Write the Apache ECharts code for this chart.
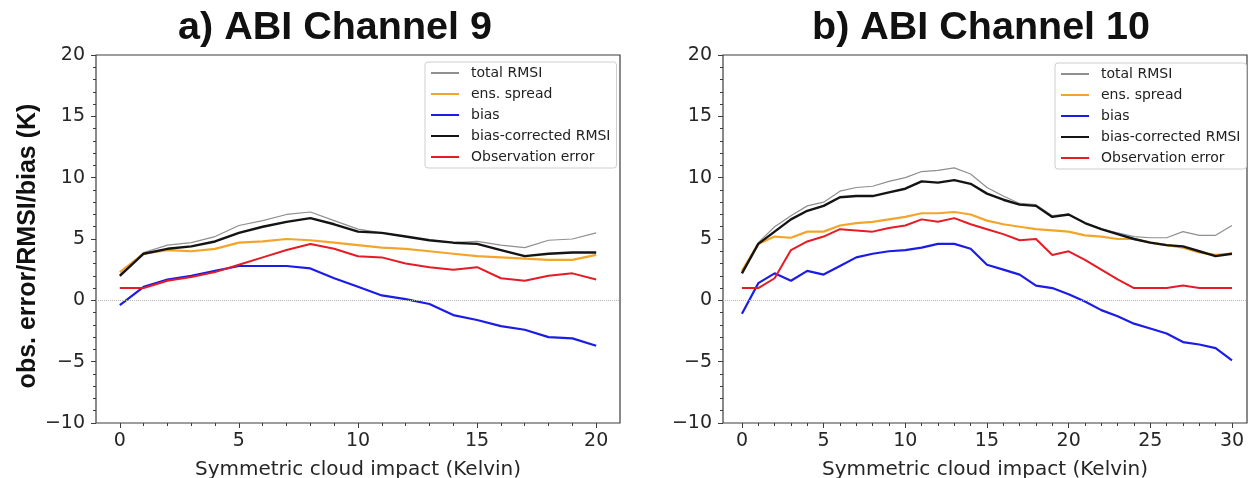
<!DOCTYPE html>
<html><head><meta charset="utf-8">
<script src="https://cdn.jsdelivr.net/npm/echarts@6/dist/echarts.min.js"></script>
<style>html,body{margin:0;padding:0;background:#fff}#c{width:1248px;height:478px}</style>
</head><body><div id="c"></div>
<script>
// ---------- data ----------
const seriesNames = ['total RMSI', 'ens. spread', 'bias', 'bias-corrected RMSI', 'Observation error'];

const xLeft = [0,1,2,3,4,5,6,7,8,9,10,11,12,13,14,15,16,17,18,19,20];
const leftTotal  = [2.1,3.9,4.5,4.7,5.2,6.1,6.5,7.0,7.2,6.5,5.8,5.5,5.2,4.9,4.7,4.8,4.5,4.3,4.9,5.0,5.5];
const leftSpread = [2.3,3.8,4.1,4.0,4.2,4.7,4.8,5.0,4.9,4.7,4.5,4.3,4.2,4.0,3.8,3.6,3.5,3.4,3.3,3.3,3.7];
const leftBias   = [-0.4,1.1,1.7,2.0,2.4,2.8,2.8,2.8,2.6,1.8,1.1,0.4,0.1,-0.3,-1.2,-1.6,-2.1,-2.4,-3.0,-3.1,-3.7];
const leftBcRmsi = [2.0,3.8,4.2,4.4,4.8,5.5,6.0,6.4,6.7,6.2,5.6,5.5,5.2,4.9,4.7,4.6,4.1,3.6,3.8,3.9,3.9];
const leftObsErr = [1.0,1.0,1.6,1.9,2.3,2.9,3.5,4.1,4.6,4.2,3.6,3.5,3.0,2.7,2.5,2.7,1.8,1.6,2.0,2.2,1.7];

const xRight = [0,1,2,3,4,5,6,7,8,9,10,11,12,13,14,15,16,17,18,19,20,21,22,23,24,25,26,27,28,29,30];
const rightTotal  = [2.3,4.7,6.0,6.9,7.7,8.0,8.9,9.2,9.3,9.7,10.0,10.5,10.6,10.8,10.3,9.2,8.5,7.9,7.8,6.9,7.0,6.3,5.8,5.5,5.2,5.1,5.1,5.6,5.3,5.3,6.1];
const rightSpread = [2.4,4.6,5.2,5.1,5.6,5.6,6.1,6.3,6.4,6.6,6.8,7.1,7.1,7.2,7.0,6.5,6.2,6.0,5.8,5.7,5.6,5.3,5.2,5.0,5.0,4.7,4.5,4.3,3.9,3.7,3.8];
const rightBias   = [-1.1,1.4,2.2,1.6,2.4,2.1,2.8,3.5,3.8,4.0,4.1,4.3,4.6,4.6,4.2,2.9,2.5,2.1,1.2,1.0,0.5,-0.1,-0.8,-1.3,-1.9,-2.3,-2.7,-3.4,-3.6,-3.9,-4.9];
const rightBcRmsi = [2.2,4.6,5.6,6.6,7.3,7.7,8.4,8.5,8.5,8.8,9.1,9.7,9.6,9.8,9.5,8.7,8.2,7.8,7.7,6.8,7.0,6.3,5.8,5.4,5.0,4.7,4.5,4.4,4.0,3.6,3.8];
const rightObsErr = [1.0,1.0,1.8,4.1,4.8,5.2,5.8,5.7,5.6,5.9,6.1,6.6,6.4,6.7,6.2,5.8,5.4,4.9,5.0,3.7,4.0,3.3,2.5,1.7,1.0,1.0,1.0,1.2,1.0,1.0,1.0];

const xTicksLeft  = [0,5,10,15,20];
const xTicksRight = [0,5,10,15,20,25,30];
const xMinorLeft  = [0,1,2,3,4,5,6,7,8,9,10,11,12,13,14,15,16,17,18,19,20];
const xMinorRight = [0,1,2,3,4,5,6,7,8,9,10,11,12,13,14,15,16,17,18,19,20,21,22,23,24,25,26,27,28,29,30];

const titles = ['a) ABI Channel 9', 'b) ABI Channel 10'];
const xName = 'Symmetric cloud impact (Kelvin)';
const yName = 'obs. error/RMSI/bias (K)';

// ---------- styles ----------
const styles = [
  {color:'#8f8f8f', width:1.2},
  {color:'#f3a52b', width:2.2},
  {color:'#1c1ce8', width:2.2},
  {color:'#141414', width:2.4},
  {color:'#e61c24', width:2}
];
const axisColor = '#3c3c3c';
const tickFont = {fontFamily:'DejaVu Sans', fontSize:19, color:'#262626'};
const fmt = v => (v < 0 ? '\u2212' + Math.abs(v) : String(v));

function xAxes(grid, min, max, major, minor, withName) {
  return [
    {gridIndex:grid, type:'value', min:min, max:max, position:'bottom',
     axisLine:{show:false, onZero:false}, splitLine:{show:false},
     axisTick:{show:true, customValues:major, length:5, lineStyle:{color:axisColor, width:1}},
     axisLabel:{customValues:major, margin:9, formatter:fmt, ...tickFont},
     name: withName ? xName : '', nameLocation:'middle', nameGap:37,
     nameTextStyle:{fontFamily:'DejaVu Sans', fontSize:20, color:'#262626'}},
    {gridIndex:grid, type:'value', min:min, max:max, position:'bottom',
     axisLine:{show:false, onZero:false}, splitLine:{show:false},
     axisTick:{show:true, customValues:minor, length:3, lineStyle:{color:axisColor, width:1}},
     axisLabel:{show:false}}
  ];
}
function yAxis(grid, withName) {
  return {gridIndex:grid, type:'value', min:-10, max:20, interval:5, position:'left',
    axisLine:{show:false, onZero:false}, splitLine:{show:false},
    axisTick:{show:true, length:5, lineStyle:{color:axisColor, width:1}},
    minorTick:{show:true, splitNumber:5, length:3, lineStyle:{color:axisColor, width:1}},
    axisLabel:{margin:11, formatter:fmt, ...tickFont},
    name: withName ? yName : '', nameLocation:'middle', nameGap:54,
    nameTextStyle:{fontFamily:'Liberation Sans', fontWeight:'bold', fontSize:25, color:'#111', padding:[0,14,0,0]}};
}

function makeSeries(xs, arrays, xIdx, yIdx) {
  return arrays.map((arr, i) => {
    const s = {
      name: seriesNames[i], type:'line', xAxisIndex:xIdx, yAxisIndex:yIdx,
      data: xs.map((x, j) => [x, arr[j]]),
      symbol:'none', showSymbol:false, silent:true,
      lineStyle:{color:styles[i].color, width:styles[i].width},
      itemStyle:{color:styles[i].color}, z: 2 + i
    };
    if (i === 0) {
      s.markLine = {silent:true, symbol:['none','none'], label:{show:false},
        lineStyle:{type:'dotted', color:'#b5b5b5', width:1}, data:[{yAxis:0}]};
    }
    return s;
  });
}

function legend(left, top) {
  return {left:left, top:top, orient:'vertical', data:seriesNames, selectedMode:false,
    itemWidth:28, itemHeight:14, itemGap:7, padding:[4,6,4,5],
    itemStyle:{opacity:0, borderWidth:0},
    backgroundColor:'rgba(255,255,255,0.85)', borderColor:'#cfcfcf', borderWidth:1, borderRadius:3,
    textStyle:{fontFamily:'DejaVu Sans', fontSize:14, color:'#222', lineHeight:14, padding:[0,0,0,7]}};
}

const gridBase = {top:55, width:524, height:368, show:true, borderColor:axisColor, borderWidth:1.2,
  backgroundColor:'transparent', containLabel:false, outerBoundsMode:'none'};

const option = {
  animation:false,
  backgroundColor:'#fff',
  title: [
    {text:titles[0], left:330, top:3, textAlign:'center',
     textStyle:{fontFamily:'Liberation Sans', fontWeight:'bold', fontSize:39.5, color:'#111'}},
    {text:titles[1], left:976, top:3, textAlign:'center',
     textStyle:{fontFamily:'Liberation Sans', fontWeight:'bold', fontSize:39.5, color:'#111'}}
  ],
  grid: [
    Object.assign({left:96}, gridBase),
    Object.assign({left:723}, gridBase)
  ],
  xAxis: [
    ...xAxes(0, -1, 21, xTicksLeft, xMinorLeft, true),
    ...xAxes(1, -1.16, 30.92, xTicksRight, xMinorRight, true)
  ],
  yAxis: [yAxis(0, true), yAxis(1, false)],
  legend: [legend(425, 62), legend(1055, 63)],
  series: [
    ...makeSeries(xLeft, [leftTotal, leftSpread, leftBias, leftBcRmsi, leftObsErr], 0, 0),
    ...makeSeries(xRight, [rightTotal, rightSpread, rightBias, rightBcRmsi, rightObsErr], 2, 1)
  ]
};

const chart = echarts.init(document.getElementById('c'), null, {renderer:'canvas'});
chart.setOption(option);
</script>
</body></html>
